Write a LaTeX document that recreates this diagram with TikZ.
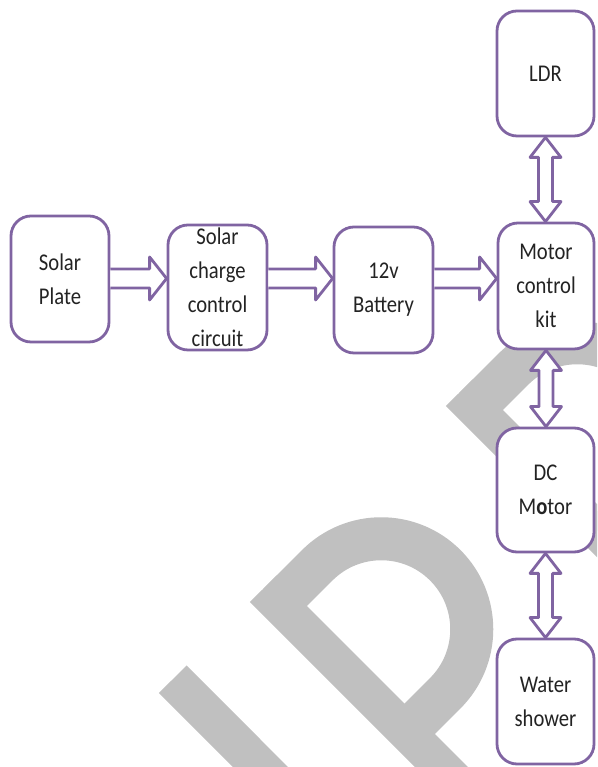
\documentclass[tikz,border=0pt]{standalone}
\usepackage{fontspec}
\setmainfont{Carlito}[FakeStretch=0.86]
\usetikzlibrary{calc}
\definecolor{boxpurple}{RGB}{128,100,162}
\definecolor{wmgray}{RGB}{192,192,192}
\definecolor{txtcol}{RGB}{35,35,35}
\tikzset{
  box/.style={draw=boxpurple, line width=2.8pt, rounded corners=20pt, fill=white,
    minimum width=97pt, minimum height=125pt, inner sep=0pt, align=center,
    text=txtcol, font=\fontsize{24}{34}\selectfont},
  blockarrow/.style={draw=boxpurple, line width=2.8pt, fill=white, line join=round},
  blockline/.style={draw=boxpurple, line width=2.8pt, line join=round},
  wm/.style={draw=wmgray, line cap=butt, line join=round}
}
\newcommand\harrowblock[3]{%
  \fill[white] let \p1=(#1.east), \p2=(#2.west) in
    (\x1,#3pt+9.5pt) -- (\x2-17pt,#3pt+9.5pt) -- (\x2-17pt,#3pt+21.5pt) -- (\x2,#3pt)
    -- (\x2-17pt,#3pt-21.5pt) -- (\x2-17pt,#3pt-9.5pt) -- (\x1,#3pt-9.5pt) -- cycle;
  \draw[blockline] let \p1=(#1.east), \p2=(#2.west) in
    (\x1,#3pt+9.5pt) -- (\x2-17pt,#3pt+9.5pt) -- (\x2-17pt,#3pt+21.5pt) -- (\x2,#3pt)
    -- (\x2-17pt,#3pt-21.5pt) -- (\x2-17pt,#3pt-9.5pt) -- (\x1,#3pt-9.5pt);}
\newcommand\vdarrowblock[2]{%
  \draw[blockarrow] let \p1=(#1.south), \p2=(#2.north) in
    (\x1,\y1) -- (\x1+15.5pt,\y1-20pt) -- (\x1+7pt,\y1-20pt) -- (\x1+7pt,\y2+20pt)
    -- (\x1+15.5pt,\y2+20pt) -- (\x1,\y2) -- (\x1-15.5pt,\y2+20pt) -- (\x1-7pt,\y2+20pt)
    -- (\x1-7pt,\y1-20pt) -- (\x1-15.5pt,\y1-20pt) -- cycle;}
\begin{document}
\begin{tikzpicture}[x=1pt,y=1pt]
\useasboundingbox (0,0) rectangle (597,767);
\fill[white] (0,0) rectangle (597,767);
% watermark
\begin{scope}
\clip (0,0) rectangle (597,767);
\draw[wm, line width=39pt] (172.75,87.75) -- (396.5,-136.25);
\draw[wm, line width=37.5pt] (263.25,178.25) -- (487,-45.75);
\draw[wm, line width=43pt] (278.5,163) -- (317.26,201.74)
  arc[start angle=135, end angle=-45, radius=90.5] -- (406.5,35);
\draw[wm, line width=37.5pt] (459.25,374.25) -- (683,150.25);
\draw[wm, line width=43pt] (474.5,359) -- (513.26,397.74)
  arc[start angle=135, end angle=-45, radius=90.5] -- (602.5,231);
\end{scope}
% boxes
\node[box] (ldr) at (545.5,693.5) {LDR};
\node[box, minimum width=98pt, minimum height=126pt] (sp) at (60,488) {Solar\\Plate};
\node[box, minimum width=99pt] (scc) at (217.5,479.5) {Solar\\charge\\control\\circuit};
\node[box, minimum width=99pt, minimum height=126pt] (bat) at (383.5,477) {12v\\Battery};
\node[box, minimum width=96pt, minimum height=126pt] (mck) at (546,481) {Motor\\control\\kit};
\node[box, minimum height=124pt] (dcm) at (545.5,277) {DC\\M{\bfseries o}tor};
\node[box] (ws) at (545.5,65.5) {Water\\shower};
% connectors
\harrowblock{sp}{scc}{488.5}
\harrowblock{scc}{bat}{488.5}
\harrowblock{bat}{mck}{488.5}
\vdarrowblock{ldr}{mck}
\vdarrowblock{mck}{dcm}
\vdarrowblock{dcm}{ws}
\end{tikzpicture}
\end{document}
